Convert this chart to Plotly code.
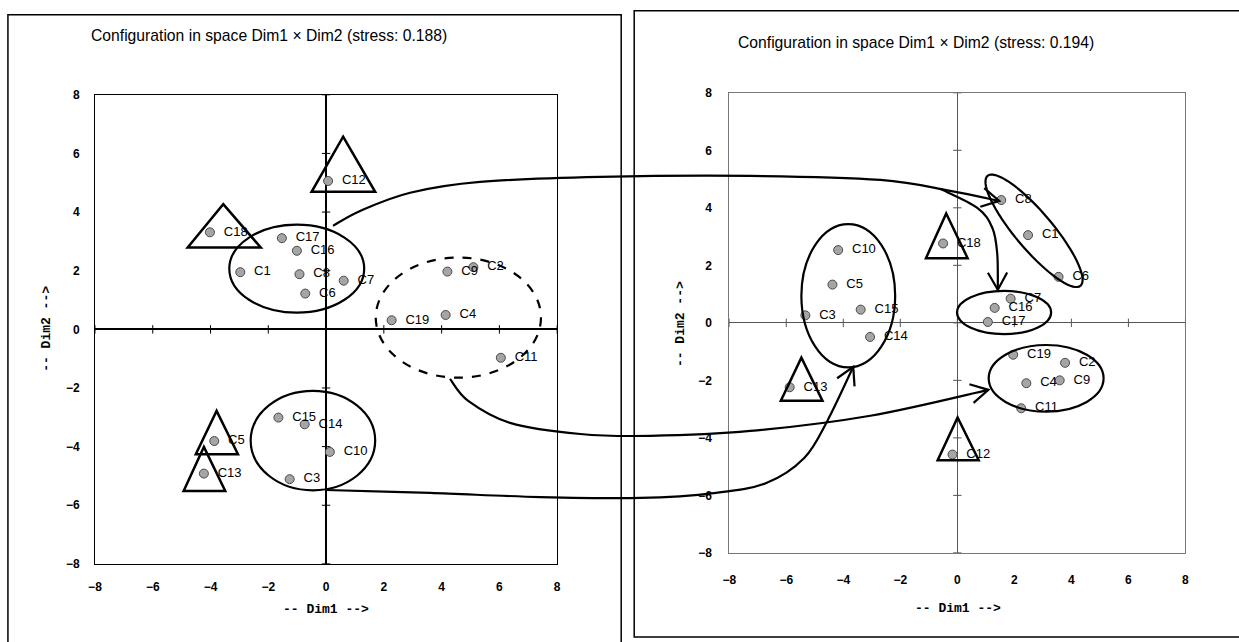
import numpy as np
import plotly.graph_objects as go

W, H = 1239, 642

# ---------------- data ----------------
names = ["C1", "C2", "C3", "C4", "C5", "C6", "C7", "C8", "C9", "C10",
         "C11", "C12", "C13", "C14", "C15", "C16", "C17", "C18", "C19"]
left_x = [-2.97, 5.10, -1.26, 4.14, -3.87, -0.72, 0.61, -0.92, 4.20, 0.13,
          6.05, 0.07, -4.23, -0.74, -1.65, -1.01, -1.53, -4.02, 2.27]
left_y = [1.95, 2.12, -5.11, 0.49, -3.81, 1.22, 1.66, 1.88, 1.97, -4.18,
          -0.97, 5.06, -4.92, -3.24, -3.01, 2.68, 3.11, 3.31, 0.31]
right_x = [2.48, 3.78, -5.33, 2.42, -4.38, 3.55, 1.87, 1.54, 3.59, -4.18,
           2.24, -0.17, -5.88, -3.06, -3.39, 1.31, 1.07, -0.50, 1.96]
right_y = [3.05, -1.39, 0.26, -2.10, 1.33, 1.60, 0.84, 4.27, -2.00, 2.53,
           -2.97, -4.58, -2.24, -0.49, 0.46, 0.52, 0.03, 2.76, -1.11]

tick_vals = [-8, -6, -4, -2, 0, 2, 4, 6, 8]
title_left = "Configuration in space Dim1 \u00d7 Dim2 (stress: 0.188)"
title_right = "Configuration in space Dim1 \u00d7 Dim2 (stress: 0.194)"
x_title = "-- Dim1 -->"
y_title = "-- Dim2 -->"


# ---------------- layout geometry ----------------
# target positions are given in picture pixels; convert to page pixels
def PX(v):
    return (v - 7.07) / 0.9907


def PY(v):
    return (v - 6.22) / 0.978


def fx(v):  # paper x from picture px
    return PX(v) / W


def fy(v):  # paper y from picture py
    return 1 - PY(v) / H


L_XD = [fx(95), fx(557)]
L_YD = [fy(563), fy(94)]
R_XD = [fx(729), fx(1185)]
R_YD = [fy(552), fy(92)]
RANGE = [-8, 8]


def to_pix(panel, x, y):
    xd, yd = (L_XD, L_YD) if panel == "L" else (R_XD, R_YD)
    px = (xd[0] + (x - RANGE[0]) / 16 * (xd[1] - xd[0])) * W
    py = (1 - (yd[0] + (y - RANGE[0]) / 16 * (yd[1] - yd[0]))) * H
    return px, py


def pp(px, py):
    return f"{px / W:.5f},{1 - py / H:.5f}"


def smooth_path(pts):
    P = [np.array(to_pix(*p)) for p in pts]
    n = len(P)
    d = "M " + pp(*P[0])
    for i in range(n - 1):
        p0 = P[i - 1] if i > 0 else P[i]
        p1, p2 = P[i], P[i + 1]
        p3 = P[i + 2] if i + 2 < n else P[i + 1]
        c1 = p1 + (p2 - p0) / 6
        c2 = p2 - (p3 - p1) / 6
        d += f" C {pp(*c1)} {pp(*c2)} {pp(*p2)}"
    return d, P


def arrow_head(P, length=20, half=np.radians(29)):
    tip = P[-1]
    v = tip - P[-2]
    v = v / np.linalg.norm(v)
    out = []
    for s in (half, -half):
        c, sn = np.cos(s), np.sin(s)
        r = np.array([c * v[0] - sn * v[1], sn * v[0] + c * v[1]])
        out.append(tip - r * length)
    return f"M {pp(*out[0])} L {pp(*tip)} L {pp(*out[1])}"


shapes = []
BLACK = "#000000"

# panel borders
shapes.append(dict(type="rect", xref="paper", yref="paper", x0=fx(8), x1=fx(621),
                   y0=-0.05, y1=fy(14), line=dict(color=BLACK, width=1.5)))
shapes.append(dict(type="rect", xref="paper", yref="paper", x0=fx(634), x1=1.05,
                   y0=fy(636), y1=fy(10), line=dict(color=BLACK, width=1.5)))

# triangles: apex x, apex y, base y, base x0, base x1
tri_left = [(0.59, 6.57, 4.69, -0.50, 1.70), (-3.56, 4.27, 2.79, -4.79, -2.26),
            (-3.79, -2.78, -4.26, -4.51, -3.05), (-4.23, -4.01, -5.51, -4.93, -3.49)]
tri_right = [(-5.47, -1.21, -2.71, -6.19, -4.73), (-0.39, 3.80, 2.25, -1.10, 0.36),
             (0.01, -3.29, -4.78, -0.69, 0.75)]
for tris, xr, yr in ((tri_left, "x", "y"), (tri_right, "x2", "y2")):
    for ax_, ay_, by, bx0, bx1 in tris:
        shapes.append(dict(type="path", xref=xr, yref=yr,
                           path=f"M {ax_},{ay_} L {bx1},{by} L {bx0},{by} Z",
                           line=dict(color=BLACK, width=2.5)))

# ellipses: x0, x1, y0, y1, dash
ell_left = [(-3.35, 1.32, 0.57, 3.57, "solid"), (1.72, 7.44, -1.65, 2.45, "dash"),
            (-2.61, 1.70, -5.49, -2.10, "solid")]
ell_right = [(-5.47, -2.18, -1.55, 3.43, "solid"), (-0.01, 3.29, -0.39, 1.11, "solid"),
             (1.10, 5.13, -3.09, -0.77, "solid")]
for ells, xr, yr in ((ell_left, "x", "y"), (ell_right, "x2", "y2")):
    for x0, x1, y0, y1, dash in ells:
        shapes.append(dict(type="circle", xref=xr, yref=yr, x0=x0, x1=x1, y0=y0, y1=y1,
                           line=dict(color=BLACK, width=2.2, dash=dash)))

# tilted ellipse (right: C8, C1, C6)
e_a = np.array([1.06, 5.11])
e_b = np.array([4.32, 1.29])
e_c = (e_a + e_b) / 2
u = (e_b - e_a) / np.linalg.norm(e_b - e_a)
vperp = np.array([-u[1], u[0]])
a_len = np.linalg.norm(e_b - e_a) / 2
b_len = 0.65
t = np.linspace(0, 2 * np.pi, 73)
pts = [e_c + a_len * np.cos(tt) * u + b_len * np.sin(tt) * vperp for tt in t]
tpath = "M " + " L ".join(f"{p[0]:.3f},{p[1]:.3f}" for p in pts) + " Z"
shapes.append(dict(type="path", xref="x2", yref="y2", path=tpath,
                   line=dict(color=BLACK, width=2.2)))

# connecting arrows (panel, x, y in that panel's data units)
curves = [
    [("L", 0.24, 3.53), ("L", 1.18, 4.04), ("L", 2.91, 4.66), ("L", 5.33, 5.03),
     ("L", 9.49, 5.20), ("R", -7.26, 5.11), ("R", -2.70, 4.97), ("R", -0.25, 4.59),
     ("R", 1.47, 4.24)],
    [("R", -0.60, 4.66), ("R", 0.70, 4.00), ("R", 1.23, 3.30), ("R", 1.40, 2.40),
     ("R", 1.42, 1.15)],
    [("L", 4.29, -1.69), ("L", 4.92, -2.44), ("L", 6.37, -3.19), ("L", 8.80, -3.57),
     ("R", -10.77, -3.93), ("R", -7.26, -3.76), ("R", -3.05, -3.23), ("R", 1.09, -2.33)],
    [("L", 0.0, -5.48), ("L", 3.60, -5.58), ("L", 7.41, -5.72), ("R", -11.12, -6.09),
     ("R", -8.46, -5.91), ("R", -6.70, -5.57), ("R", -5.37, -4.70), ("R", -4.56, -3.41),
     ("R", -3.65, -1.53)],
]
for c in curves:
    d, P = smooth_path(c)
    shapes.append(dict(type="path", xref="paper", yref="paper", path=d,
                       line=dict(color=BLACK, width=2.2)))
    shapes.append(dict(type="path", xref="paper", yref="paper", path=arrow_head(P),
                       line=dict(color=BLACK, width=2.2)))

# ---------------- traces ----------------
fig = go.Figure()
marker = dict(size=9, color="#a5a5a5", line=dict(color="#4a4a4a", width=1))
label_font = dict(family="Liberation Sans, Arial, sans-serif", size=13, color="#000")
label_tmpl = "\u00a0\u00a0%{text}"

# small tick marks on the zero lines
for xa, ya, col in (("x", "y", "#000"), ("x2", "y2", "#555")):
    fig.add_trace(go.Scatter(x=tick_vals, y=[0] * len(tick_vals), mode="markers",
                             marker=dict(symbol="line-ns", size=6, line=dict(color=col, width=1)),
                             xaxis=xa, yaxis=ya, hoverinfo="skip", showlegend=False))
    fig.add_trace(go.Scatter(x=[0] * len(tick_vals), y=tick_vals, mode="markers",
                             marker=dict(symbol="line-ew", size=6, line=dict(color=col, width=1)),
                             xaxis=xa, yaxis=ya, hoverinfo="skip", showlegend=False))

fig.add_trace(go.Scatter(x=left_x, y=left_y, text=names, mode="markers+text",
                         texttemplate=label_tmpl,
                         textposition="middle right", marker=marker, textfont=label_font,
                         xaxis="x", yaxis="y", showlegend=False))
fig.add_trace(go.Scatter(x=right_x, y=right_y, text=names, mode="markers+text",
                         texttemplate=label_tmpl,
                         textposition="middle right", marker=marker, textfont=label_font,
                         xaxis="x2", yaxis="y2", showlegend=False))

tick_font = dict(family="Liberation Sans, Arial, sans-serif", size=12, color="#000", weight="bold")


def axis(domain, anchor, color, zcol, zw, standoff):
    return dict(domain=domain, anchor=anchor, range=RANGE, tickvals=tick_vals,
                showgrid=False, zeroline=True, zerolinecolor=zcol, zerolinewidth=zw,
                showline=True, mirror=True, linecolor=color, linewidth=1,
                ticks="", tickfont=tick_font, ticklabelstandoff=standoff, fixedrange=True)


title_font = dict(family="Liberation Sans, Arial, sans-serif", size=15.7, color="#000")
axt_font = dict(family="Liberation Mono, DejaVu Sans Mono, monospace", size=13,
                color="#000", weight="bold")

annotations = [
    dict(text=title_left, x=fx(269), y=fy(35), xref="paper", yref="paper",
         showarrow=False, font=title_font, xanchor="center", yanchor="middle"),
    dict(text=title_right, x=fx(916), y=fy(42), xref="paper", yref="paper",
         showarrow=False, font=title_font, xanchor="center", yanchor="middle"),
    dict(text=x_title, x=fx(326), y=fy(609), xref="paper", yref="paper",
         showarrow=False, font=axt_font, xanchor="center", yanchor="middle"),
    dict(text=x_title, x=fx(958), y=fy(608), xref="paper", yref="paper",
         showarrow=False, font=axt_font, xanchor="center", yanchor="middle"),
    dict(text=y_title, x=fx(47), y=fy(328), xref="paper", yref="paper",
         showarrow=False, font=axt_font, textangle=-90, xanchor="center", yanchor="middle"),
    dict(text=y_title, x=fx(681), y=fy(323), xref="paper", yref="paper",
         showarrow=False, font=axt_font, textangle=-90, xanchor="center", yanchor="middle"),
]

fig.update_layout(
    width=W, height=H, autosize=False,
    margin=dict(l=0, r=0, t=0, b=0),
    paper_bgcolor="white", plot_bgcolor="white",
    xaxis=axis(L_XD, "y", "#000", "#000", 1.8, 12),
    yaxis=axis(L_YD, "x", "#000", "#000", 1.8, 12),
    xaxis2=axis(R_XD, "y2", "#777", "#555", 1.2, 16),
    yaxis2=axis(R_YD, "x2", "#777", "#555", 1.2, 14),
    shapes=shapes,
    annotations=annotations,
    showlegend=False,
)

page_js = (
    "var gd=document.getElementById('{plot_id}');"
    "gd.style.position='fixed';gd.style.left='0px';gd.style.top='0px';"
    "var de=document.documentElement, bd=document.body;"
    "[de,bd].forEach(function(e){e.style.margin='0';e.style.padding='0';"
    "e.style.overflow='hidden';e.style.width='1239px';e.style.height='642px';});"
)
fig.write_html("out.html", post_script=page_js, config={"displayModeBar": False})
